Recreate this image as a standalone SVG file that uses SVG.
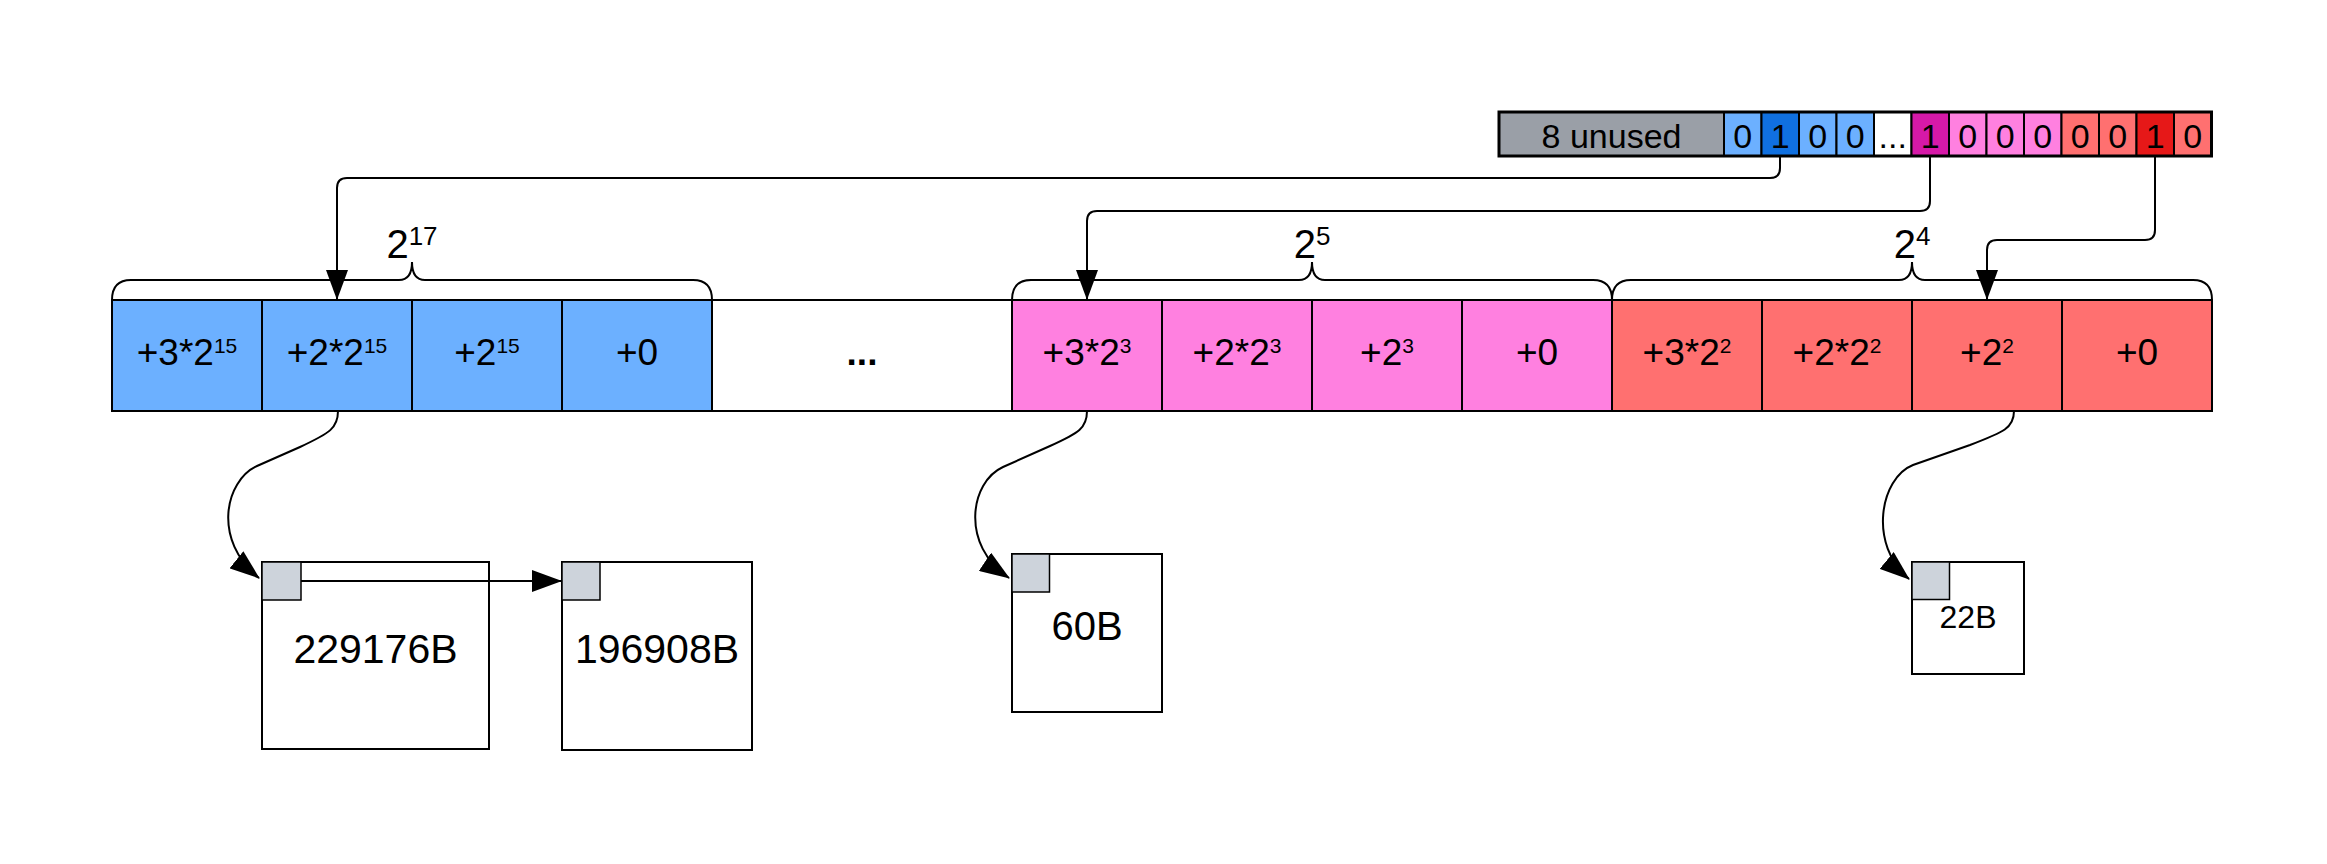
<svg xmlns="http://www.w3.org/2000/svg" width="2327" height="864" viewBox="0 0 2327 864">
<style>
  text { font-family: "Liberation Sans", Arial, sans-serif; fill: #000; text-anchor: middle; }
  .bit { font-size: 34px; }
  .cell { font-size: 37px; }
  .sup { font-size: 21px; }
  .lbl { font-size: 40px; }
  .lsup { font-size: 26px; }
  .c { stroke: #000; stroke-width: 2; }
  .lb { fill: #6CB0FF; }
  .db { fill: #1070E0; }
  .pk { fill: #FF80E0; }
  .dm { fill: #D619A8; }
  .sa { fill: #FF7070; }
  .rd { fill: #E61818; }
  .gr { fill: #9A9FA7; }
  .wh { fill: #FFFFFF; }
  .box { fill: #FFFFFF; stroke: #000; stroke-width: 2; }
  .hdr { fill: #CDD3DB; stroke: #000; stroke-width: 1.5; }
  .brace { fill: none; stroke: #000; stroke-width: 2; }
  .conn { fill: none; stroke: #000; stroke-width: 2; }
</style>
<defs>
  <marker id="arr" markerWidth="30" markerHeight="22" refX="29" refY="11" orient="auto" markerUnits="userSpaceOnUse">
    <path d="M0,0 L30,11 L0,22 z" fill="#000"/>
  </marker>
</defs>
<rect x="0" y="0" width="2327" height="864" fill="#FFFFFF"/>

<!-- bit strip -->
<g id="bitstrip">
  <rect class="c gr" x="1499" y="112" width="225" height="44"/>
  <text class="bit" x="1611.5" y="148">8 unused</text>
  <rect class="c lb" x="1724" y="112" width="37.5" height="44"/>
  <text class="bit" x="1742.75" y="148">0</text>
  <rect class="c db" x="1761.5" y="112" width="37.5" height="44"/>
  <text class="bit" x="1780.25" y="148">1</text>
  <rect class="c lb" x="1799" y="112" width="37.5" height="44"/>
  <text class="bit" x="1817.75" y="148">0</text>
  <rect class="c lb" x="1836.5" y="112" width="37.5" height="44"/>
  <text class="bit" x="1855.25" y="148">0</text>
  <rect class="c wh" x="1874" y="112" width="37.5" height="44"/>
  <text class="bit" x="1892.75" y="148">...</text>
  <rect class="c dm" x="1911.5" y="112" width="37.5" height="44"/>
  <text class="bit" x="1930.25" y="148">1</text>
  <rect class="c pk" x="1949" y="112" width="37.5" height="44"/>
  <text class="bit" x="1967.75" y="148">0</text>
  <rect class="c pk" x="1986.5" y="112" width="37.5" height="44"/>
  <text class="bit" x="2005.25" y="148">0</text>
  <rect class="c pk" x="2024" y="112" width="37.5" height="44"/>
  <text class="bit" x="2042.75" y="148">0</text>
  <rect class="c sa" x="2061.5" y="112" width="37.5" height="44"/>
  <text class="bit" x="2080.25" y="148">0</text>
  <rect class="c sa" x="2099" y="112" width="37.5" height="44"/>
  <text class="bit" x="2117.75" y="148">0</text>
  <rect class="c rd" x="2136.5" y="112" width="37.5" height="44"/>
  <text class="bit" x="2155.25" y="148">1</text>
  <rect class="c sa" x="2174" y="112" width="37.5" height="44"/>
  <text class="bit" x="2192.75" y="148">0</text>
  <rect x="1499" y="112" width="712.5" height="44" fill="none" stroke="#000" stroke-width="3"/>
</g>

<!-- main row -->
<g id="row">
  <g id="b3"><rect class="c lb" x="112" y="300" width="150" height="111"/><text class="cell" x="187" y="365">+3*2<tspan class="sup" dy="-12">15</tspan></text></g>
  <g id="b2"><rect class="c lb" x="262" y="300" width="150" height="111"/><text class="cell" x="337" y="365">+2*2<tspan class="sup" dy="-12">15</tspan></text></g>
  <g id="b1"><rect class="c lb" x="412" y="300" width="150" height="111"/><text class="cell" x="487" y="365">+2<tspan class="sup" dy="-12">15</tspan></text></g>
  <g id="b0"><rect class="c lb" x="562" y="300" width="150" height="111"/><text class="cell" x="637" y="365">+0</text></g>
  <g id="dots"><rect class="c wh" x="712" y="300" width="300" height="111"/><text class="cell" x="862" y="365" font-weight="bold">...</text></g>
  <g id="p3"><rect class="c pk" x="1012" y="300" width="150" height="111"/><text class="cell" x="1087" y="365">+3*2<tspan class="sup" dy="-12">3</tspan></text></g>
  <g id="p2"><rect class="c pk" x="1162" y="300" width="150" height="111"/><text class="cell" x="1237" y="365">+2*2<tspan class="sup" dy="-12">3</tspan></text></g>
  <g id="p1"><rect class="c pk" x="1312" y="300" width="150" height="111"/><text class="cell" x="1387" y="365">+2<tspan class="sup" dy="-12">3</tspan></text></g>
  <g id="p0"><rect class="c pk" x="1462" y="300" width="150" height="111"/><text class="cell" x="1537" y="365">+0</text></g>
  <g id="r3"><rect class="c sa" x="1612" y="300" width="150" height="111"/><text class="cell" x="1687" y="365">+3*2<tspan class="sup" dy="-12">2</tspan></text></g>
  <g id="r2"><rect class="c sa" x="1762" y="300" width="150" height="111"/><text class="cell" x="1837" y="365">+2*2<tspan class="sup" dy="-12">2</tspan></text></g>
  <g id="r1"><rect class="c sa" x="1912" y="300" width="150" height="111"/><text class="cell" x="1987" y="365">+2<tspan class="sup" dy="-12">2</tspan></text></g>
  <g id="r0"><rect class="c sa" x="2062" y="300" width="150" height="111"/><text class="cell" x="2137" y="365">+0</text></g>
</g>

<!-- braces -->
<g id="brace-blue">
  <path class="brace" d="M112,300 Q112,280 131,280 L399,280 Q412,280 412,262 Q412,280 425,280 L693,280 Q712,280 712,300"/>
  <text class="lbl" x="412" y="258">2<tspan class="lsup" dy="-13">17</tspan></text>
</g>
<g id="brace-pink">
  <path class="brace" d="M1012,300 Q1012,280 1031,280 L1299,280 Q1312,280 1312,262 Q1312,280 1325,280 L1593,280 Q1612,280 1612,300"/>
  <text class="lbl" x="1312" y="258">2<tspan class="lsup" dy="-13">5</tspan></text>
</g>
<g id="brace-red">
  <path class="brace" d="M1612,300 Q1612,280 1631,280 L1899,280 Q1912,280 1912,262 Q1912,280 1925,280 L2193,280 Q2212,280 2212,300"/>
  <text class="lbl" x="1912" y="258">2<tspan class="lsup" dy="-13">4</tspan></text>
</g>

<!-- blocks -->
<g id="blk229176">
  <rect class="box" x="262" y="562" width="227" height="187"/>
  <rect class="hdr" x="262" y="562" width="39" height="38"/>
  <text x="375.5" y="663" font-size="41">229176B</text>
</g>
<g id="blk196908">
  <rect class="box" x="562" y="562" width="190" height="188"/>
  <rect class="hdr" x="562" y="562" width="38" height="38"/>
  <text x="657" y="663" font-size="41">196908B</text>
</g>
<g id="blk60">
  <rect class="box" x="1012" y="554" width="150" height="158"/>
  <rect class="hdr" x="1012" y="554" width="37.5" height="38"/>
  <text x="1087" y="640" font-size="40">60B</text>
</g>
<g id="blk22">
  <rect class="box" x="1912" y="562" width="112" height="112"/>
  <rect class="hdr" x="1912" y="562" width="37.5" height="37.5"/>
  <text x="1968" y="628" font-size="32">22B</text>
</g>

<!-- connectors -->
<g id="connectors">
  <path class="conn" marker-end="url(#arr)" d="M1780,156 L1780,168 Q1780,178 1770,178 L347,178 Q337,178 337,188 L337,299"/>
  <path class="conn" marker-end="url(#arr)" d="M1930,156 L1930,201 Q1930,211 1920,211 L1097,211 Q1087,211 1087,221 L1087,299"/>
  <path class="conn" marker-end="url(#arr)" d="M2155,156 L2155,230 Q2155,240 2145,240 L1997,240 Q1987,240 1987,250 L1987,299"/>
  <path class="conn" marker-end="url(#arr)" d="M338,411 C338,428 330,433 300,447 L257,466 C225,481 212,540 259,578"/>
  <path class="conn" marker-end="url(#arr)" d="M1087,411 C1087,428 1079,433 1050,446 L1003,467 C970,482 960,545 1009,578"/>
  <path class="conn" marker-end="url(#arr)" d="M2014,411 C2014,428 2004,432 1970,445 L1913,465 C1880,478 1868,545 1909,579"/>
  <path class="conn" marker-end="url(#arr)" d="M301,581 L561,581"/>
</g>
</svg>
